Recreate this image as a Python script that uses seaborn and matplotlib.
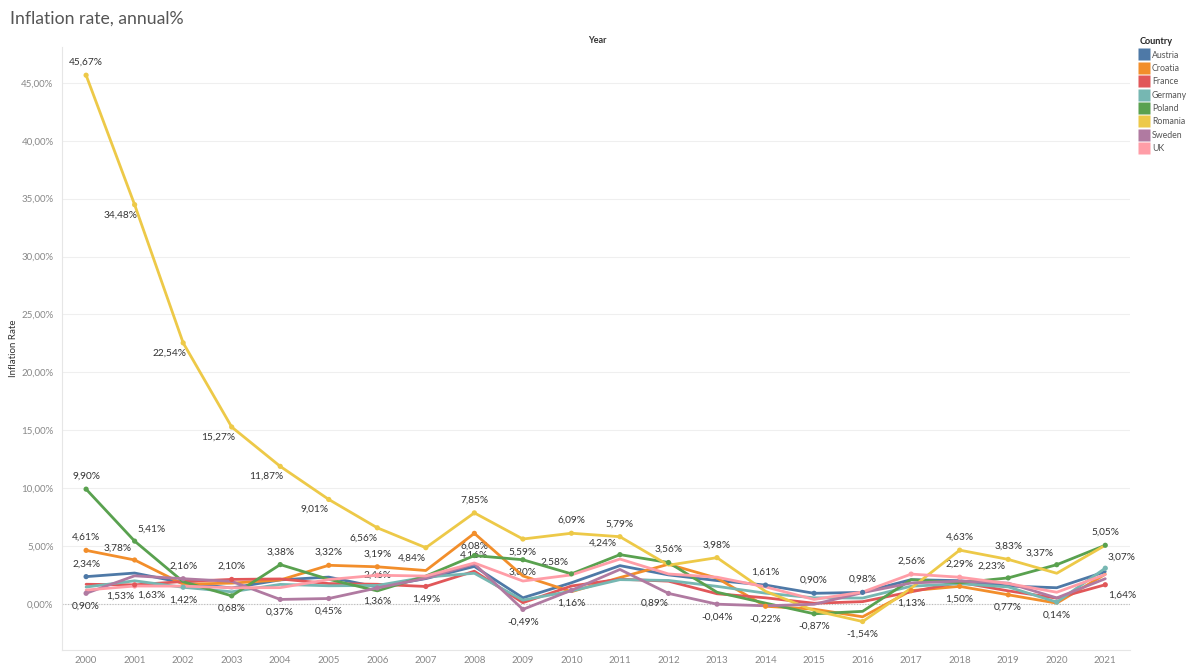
import matplotlib
matplotlib.use("Agg")
import matplotlib.pyplot as plt
import matplotlib.ticker as mticker
from matplotlib.lines import Line2D
import seaborn as sns
import pandas as pd

years = list(range(2000, 2022))
countries = ["Austria", "Croatia", "France", "Germany", "Poland", "Romania", "Sweden", "UK"]

austria = [2.34, 2.65, 1.81, 1.36, 2.06, 2.30, 1.44, 2.17, 3.22, 0.51, 1.81, 3.29, 2.49, 2.00, 1.61, 0.90, 0.98, 2.08, 1.99, 1.53, 1.38, 2.77]
croatia = [4.61, 3.78, 1.69, 1.78, 2.05, 3.32, 3.19, 2.87, 6.08, 2.40, 1.04, 2.26, 3.41, 2.21, -0.22, -0.47, -1.13, 1.13, 1.50, 0.77, 0.05, 2.55]
france = [1.68, 1.63, 1.92, 2.10, 2.14, 1.74, 1.68, 1.49, 2.81, 0.09, 1.53, 2.12, 1.95, 0.86, 0.51, 0.04, 0.18, 1.03, 1.85, 1.11, 0.48, 1.64]
germany = [1.44, 1.98, 1.42, 1.03, 1.67, 1.55, 1.58, 2.30, 2.63, 0.31, 1.10, 2.08, 2.01, 1.50, 0.91, 0.51, 0.49, 1.51, 1.73, 1.45, 0.14, 3.07]
poland = [9.90, 5.41, 1.90, 0.68, 3.38, 2.11, 1.11, 2.39, 4.16, 3.80, 2.58, 4.24, 3.56, 0.99, 0.05, -0.87, -0.66, 2.08, 1.81, 2.23, 3.37, 5.05]
romania = [45.67, 34.48, 22.54, 15.27, 11.87, 9.01, 6.56, 4.84, 7.85, 5.59, 6.09, 5.79, 3.33, 3.98, 1.07, -0.59, -1.54, 1.34, 4.63, 3.83, 2.63, 5.05]
sweden = [0.90, 2.41, 2.16, 1.93, 0.37, 0.45, 1.36, 2.21, 3.44, -0.49, 1.16, 2.96, 0.89, -0.04, -0.18, -0.05, 0.96, 1.79, 1.95, 1.78, 0.50, 2.16]
uk = [1.18, 1.53, 1.52, 1.38, 1.39, 2.09, 2.46, 2.39, 3.52, 1.96, 2.49, 3.86, 2.57, 2.29, 1.45, 0.37, 1.01, 2.56, 2.29, 1.74, 0.99, 2.52]

series = dict(zip(countries, [austria, croatia, france, germany, poland, romania, sweden, uk]))

# labelled points (country, year) and placement code
labels = [
    ("Romania", 2000, "a"), ("Poland", 2000, "a"), ("Croatia", 2000, "a"), ("Austria", 2000, "a"), ("Sweden", 2000, "b"),
    ("Romania", 2001, "bl"), ("Poland", 2001, "ar"), ("Croatia", 2001, "al"), ("UK", 2001, "bl"), ("France", 2001, "br"),
    ("Romania", 2002, "bl"), ("Sweden", 2002, "a"), ("Germany", 2002, "b"),
    ("Romania", 2003, "bl"), ("France", 2003, "a"), ("Poland", 2003, "b"),
    ("Romania", 2004, "bl"), ("Poland", 2004, "a"), ("Sweden", 2004, "b"),
    ("Romania", 2005, "bl"), ("Croatia", 2005, "a"), ("Sweden", 2005, "b"),
    ("Romania", 2006, "bl"), ("Croatia", 2006, "a"), ("UK", 2006, "m"), ("Sweden", 2006, "b"),
    ("Romania", 2007, "bl"), ("France", 2007, "b"),
    ("Romania", 2008, "a"), ("Croatia", 2008, "b"), ("Poland", 2008, "m"),
    ("Romania", 2009, "b"), ("Poland", 2009, "b"), ("Sweden", 2009, "b"),
    ("Romania", 2010, "a"), ("Poland", 2010, "al"), ("Sweden", 2010, "b"),
    ("Romania", 2011, "a"), ("Poland", 2011, "al"),
    ("Poland", 2012, "a"), ("Sweden", 2012, "bl"),
    ("Romania", 2013, "a"), ("Sweden", 2013, "b"),
    ("Austria", 2014, "a"), ("Croatia", 2014, "b"),
    ("Austria", 2015, "a"), ("Poland", 2015, "b"),
    ("Austria", 2016, "a"), ("Romania", 2016, "b"),
    ("UK", 2017, "a"), ("Croatia", 2017, "b"),
    ("Romania", 2018, "a"), ("UK", 2018, "a"), ("Croatia", 2018, "b"),
    ("Romania", 2019, "a"), ("Poland", 2019, "al"), ("Croatia", 2019, "b"),
    ("Poland", 2020, "al"), ("Germany", 2020, "b"),
    ("Poland", 2021, "a"), ("Germany", 2021, "ar"), ("France", 2021, "br"),
]

palette = {
    "Austria": "#4e79a7", "Croatia": "#f28e2b", "France": "#e15759", "Germany": "#76b7b2",
    "Poland": "#59a14f", "Romania": "#edc948", "Sweden": "#b07aa1", "UK": "#ff9da7",
}

rows = []
for c in countries:
    for y, v in zip(years, series[c]):
        rows.append({"Country": c, "Year": y, "Inflation Rate": v})
df = pd.DataFrame(rows)

sns.set_theme(style="white")
plt.rcParams["font.family"] = ["Lato", "DejaVu Sans"]

fig = plt.figure(figsize=(11.89, 6.63), dpi=100)
ax = fig.add_axes([0.052, 0.0196, 0.898, 0.9094])

sns.lineplot(data=df, x="Year", y="Inflation Rate", hue="Country", palette=palette,
             hue_order=countries, linewidth=2.0, ax=ax, legend=False, zorder=3)

# markers and labels
lab_df = pd.DataFrame([{"Country": c, "Year": yr, "Inflation Rate": series[c][years.index(yr)], "pos": p}
                       for c, yr, p in labels])
sns.scatterplot(data=lab_df, x="Year", y="Inflation Rate", hue="Country", palette=palette,
                hue_order=countries, s=14, edgecolor="none", ax=ax, legend=False, zorder=4)

offs = {"a": (0, 6, "center", "bottom"), "b": (0, -6, "center", "top"),
        "m": (0, 0, "center", "center"),
        "al": (-12, 5, "center", "bottom"), "ar": (12, 5, "center", "bottom"),
        "bl": (-10, -4, "center", "top"), "br": (12, -4, "center", "top")}
for _, r in lab_df.iterrows():
    dx, dy, ha, va = offs[r["pos"]]
    txt = f"{r['Inflation Rate']:.2f}%".replace(".", ",")
    ax.annotate(txt, (r["Year"], r["Inflation Rate"]), xytext=(dx, dy), textcoords="offset points",
                ha=ha, va=va, fontsize=7.3, color="#333333", zorder=2)

ax.set_xlim(1999.5, 2021.5)
ax.set_ylim(-4, 48.1)
ax.set_xticks(years)
ax.set_xticklabels([str(y) for y in years])
ax.set_yticks(range(0, 50, 5))
ax.yaxis.set_major_formatter(mticker.FuncFormatter(lambda v, p: f"{v:.2f}%".replace(".", ",")))
ax.tick_params(axis="both", labelsize=7, colors="#999999", length=0, pad=4)
ax.tick_params(axis="y", pad=6)
for t in ax.get_xticklabels() + ax.get_yticklabels():
    t.set_color("#888888")

ax.grid(axis="y", color="#efefef", linewidth=0.8, zorder=0)
ax.axhline(0, color="#bbbbbb", linewidth=0.8, linestyle=(0, (1, 1.5)), zorder=1)
for s in ["top", "right"]:
    ax.spines[s].set_visible(False)
for s in ["left", "bottom"]:
    ax.spines[s].set_color("#e6e6e6")
    ax.spines[s].set_linewidth(0.8)

ax.set_xlabel("")
ax.set_ylabel("Inflation Rate", fontsize=7, color="#333333")
ax.yaxis.set_label_coords(-0.041, 0.5)

fig.text(0.008, 0.972, "Inflation rate, annual%", fontsize=12.7, color="#555555", ha="left", va="center")
fig.text(0.502, 0.939, "Year", fontsize=6.5, color="#333333", ha="center", va="center", fontweight="bold")

handles = [Line2D([0], [0], marker="s", linestyle="none", markersize=8, markerfacecolor=palette[c],
                  markeredgecolor="none", label=c) for c in countries]
leg = fig.legend(handles=handles, loc="upper left", bbox_to_anchor=(0.9585, 0.944), frameon=False,
                 title="Country", fontsize=6.3, title_fontsize=6.6, handletextpad=0.4, labelspacing=0.5,
                 borderaxespad=0, borderpad=0, handlelength=1.0, alignment="left")
leg.get_title().set_fontweight("bold")
for t in leg.get_texts():
    t.set_color("#555555")

fig.savefig("out.png", dpi=100)
